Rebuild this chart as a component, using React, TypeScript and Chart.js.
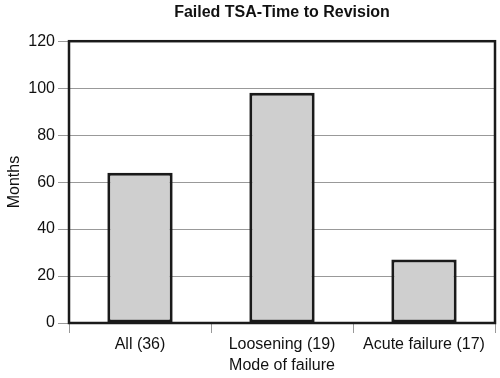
import React, { useEffect, useRef } from "react";
import { Chart, registerables } from "chart.js";

Chart.register(...registerables);

const categories = ["All (36)", "Loosening (19)", "Acute failure (17)"];
const months = [64, 98, 27];
const yTicks = [0, 20, 40, 60, 80, 100, 120];
const titleText = "Failed TSA-Time to Revision";
const xTitle = "Mode of failure";
const yTitle = "Months";

const FONT = "'Liberation Sans', Arial, Helvetica, sans-serif";

const boxPlugin = {
  id: "boxBorder",
  afterDatasetsDraw(chart: any) {
    const { ctx, chartArea } = chart;
    ctx.save();
    ctx.strokeStyle = "#1a1a1a";
    ctx.lineWidth = 2.5;
    ctx.strokeRect(chartArea.left, chartArea.top, chartArea.right - chartArea.left, chartArea.bottom - chartArea.top);
    ctx.restore();
  },
};

export default function App() {
  const ref = useRef<HTMLCanvasElement | null>(null);
  useEffect(() => {
    if (!ref.current) return;
    const chart = new Chart(ref.current, {
      type: "bar",
      data: {
        labels: categories,
        datasets: [
          {
            data: months,
            backgroundColor: "#cfcfcf",
            borderColor: "#1a1a1a",
            borderWidth: 3,
            borderSkipped: false,
            categoryPercentage: 1,
            barPercentage: 0.46,
          },
        ],
      },
      options: {
        responsive: false,
        animation: false,
        devicePixelRatio: 1,
        layout: { padding: { left: 0, right: 5, top: 0, bottom: 0 } },
        plugins: {
          legend: { display: false },
          tooltip: { enabled: false },
          title: {
            display: true,
            text: titleText,
            fullSize: false,
            color: "#111",
            font: { family: FONT, size: 16, weight: "bold" },
            padding: { top: 3, bottom: 19 },
          },
        },
        scales: {
          x: {
            grid: {
              display: true,
              drawOnChartArea: false,
              drawTicks: true,
              tickLength: 10,
              tickColor: "#999",
              offset: true,
            },
            border: { display: false },
            ticks: {
              color: "#111",
              font: { family: FONT, size: 16 },
              padding: 2,
              maxRotation: 0,
            },
            title: {
              display: true,
              text: xTitle,
              color: "#111",
              font: { family: FONT, size: 16 },
              padding: { top: 0, bottom: 3 },
            },
            afterFit(scale: any) {
              scale.height = 55;
            },
          },
          y: {
            min: 0,
            max: 120,
            afterBuildTicks(scale: any) {
              scale.ticks = yTicks.map((v) => ({ value: v }));
            },
            grid: {
              color: "#999",
              lineWidth: 1,
              drawTicks: true,
              tickLength: 11,
              tickColor: "#999",
            },
            border: { display: false },
            ticks: {
              color: "#111",
              font: { family: FONT, size: 16 },
              padding: 3,
            },
            title: {
              display: true,
              text: yTitle,
              color: "#111",
              font: { family: FONT, size: 16 },
              padding: { top: 5, bottom: 0 },
            },
            afterFit(scale: any) {
              scale.width = 69;
            },
          },
        },
      },
      plugins: [boxPlugin],
    });
    return () => chart.destroy();
  }, []);
  return (
    <div style={{ position: "fixed", left: 0, top: 0, width: 500, height: 378, background: "#fff" }}>
      <canvas ref={ref} width={500} height={378} style={{ display: "block", width: 500, height: 378 }} />
    </div>
  );
}
